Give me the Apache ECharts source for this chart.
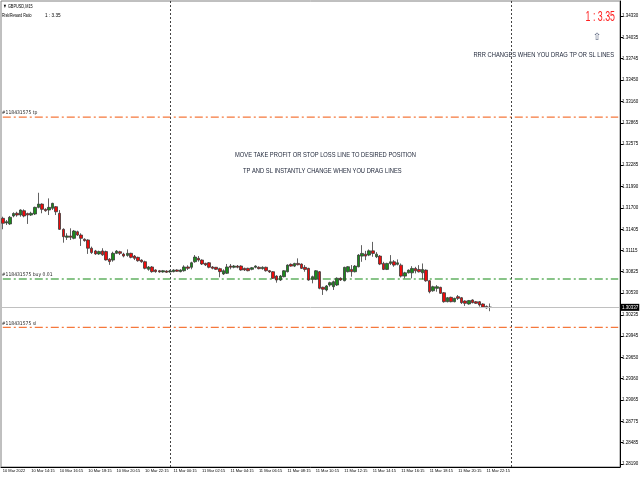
<!DOCTYPE html>
<html>
<head>
<meta charset="utf-8">
<script src="https://cdn.jsdelivr.net/npm/echarts@6/dist/echarts.min.js"></script>
<style>
  html, body { margin: 0; padding: 0; background: #fff; }
  #chart { width: 640px; height: 480px; }
</style>
</head>
<body>
<div id="chart"></div>
<script>
// GBPUSD M15, 10 Mar 12:15 .. 11 Mar 22:30
const xTickLabels = ['10 Mar 2022', '10 Mar 14:15', '10 Mar 16:15', '10 Mar 18:15', '10 Mar 20:15', '10 Mar 22:15',
  '11 Mar 00:15', '11 Mar 02:15', '11 Mar 04:15', '11 Mar 06:15', '11 Mar 08:15', '11 Mar 10:15',
  '11 Mar 12:15', '11 Mar 14:15', '11 Mar 16:15', '11 Mar 18:15', '11 Mar 20:15', '11 Mar 22:15']
const barsPerLabel = 8
const slotCount = 174   // bars + empty space on the right
const daySeparators = ['47', '143']

const opens = [
  1.31557, 1.31493, 1.31480, 1.31589, 1.31626, 1.31602, 1.31661, 1.31623, 1.31602, 1.31616,
  1.31707, 1.31752, 1.31680, 1.31671, 1.31694, 1.31716, 1.31625, 1.31406, 1.31297, 1.31315,
  1.31283, 1.31373, 1.31328, 1.31270, 1.31260, 1.31147, 1.31110, 1.31069, 1.31110, 1.31101,
  1.30997, 1.30985, 1.31077, 1.31099, 1.31067, 1.31049, 1.31077, 1.31040, 1.31022, 1.30985,
  1.30962, 1.30858, 1.30890, 1.30849, 1.30839, 1.30822, 1.30835, 1.30822, 1.30826, 1.30849,
  1.30826, 1.30839, 1.30890, 1.30886, 1.30962, 1.31009, 1.30985, 1.30940, 1.30948, 1.30890,
  1.30886, 1.30867, 1.30794, 1.30804, 1.30903, 1.30886, 1.30903, 1.30903, 1.30872, 1.30872,
  1.30858, 1.30886, 1.30886, 1.30867, 1.30886, 1.30839, 1.30825, 1.30766, 1.30711, 1.30757,
  1.30825, 1.30926, 1.30902, 1.30939, 1.30930, 1.30885, 1.30871, 1.30721, 1.30721, 1.30825,
  1.30612, 1.30575, 1.30643, 1.30620, 1.30643, 1.30735, 1.30702, 1.30825, 1.30857, 1.30825,
  1.30893, 1.31039, 1.31066, 1.31053, 1.31111, 1.31030, 1.31039, 1.30939, 1.30857, 1.30939,
  1.30961, 1.30926, 1.30915, 1.30765, 1.30810, 1.30810, 1.30870, 1.30856, 1.30810, 1.30847,
  1.30701, 1.30564, 1.30597, 1.30611, 1.30537, 1.30414, 1.30474, 1.30414, 1.30483, 1.30469,
  1.30424, 1.30383, 1.30438, 1.30414, 1.30414, 1.30383, 1.30350, 1.30340]
const closes = [
  1.31489, 1.31511, 1.31571, 1.31623, 1.31602, 1.31671, 1.31589, 1.31602, 1.31626, 1.31707,
  1.31752, 1.31680, 1.31661, 1.31707, 1.31762, 1.31647, 1.31406, 1.31305, 1.31315, 1.31297,
  1.31383, 1.31328, 1.31283, 1.31251, 1.31147, 1.31087, 1.31069, 1.31101, 1.31056, 1.30987,
  1.30964, 1.31077, 1.31108, 1.31077, 1.31040, 1.31077, 1.31022, 1.31009, 1.30976, 1.30962,
  1.30872, 1.30890, 1.30826, 1.30826, 1.30822, 1.30839, 1.30817, 1.30835, 1.30849, 1.30831,
  1.30849, 1.30890, 1.30872, 1.30948, 1.31026, 1.30985, 1.30931, 1.30917, 1.30886, 1.30872,
  1.30858, 1.30826, 1.30839, 1.30890, 1.30886, 1.30903, 1.30886, 1.30849, 1.30849, 1.30839,
  1.30880, 1.30903, 1.30867, 1.30886, 1.30839, 1.30822, 1.30735, 1.30711, 1.30766, 1.30838,
  1.30916, 1.30902, 1.30939, 1.30921, 1.30871, 1.30857, 1.30711, 1.30757, 1.30838, 1.30598,
  1.30585, 1.30630, 1.30675, 1.30688, 1.30735, 1.30711, 1.30885, 1.30893, 1.30825, 1.30902,
  1.31053, 1.31076, 1.31039, 1.31111, 1.31076, 1.31066, 1.30930, 1.30857, 1.30939, 1.30961,
  1.30916, 1.30947, 1.30765, 1.30810, 1.30847, 1.30870, 1.30837, 1.30824, 1.30856, 1.30701,
  1.30551, 1.30619, 1.30619, 1.30529, 1.30414, 1.30469, 1.30414, 1.30460, 1.30460, 1.30401,
  1.30392, 1.30429, 1.30401, 1.30392, 1.30370, 1.30342, 1.30330, 1.30337]
const lows = [
  1.31407, 1.31466, 1.31466, 1.31571, 1.31579, 1.31579, 1.31571, 1.31480, 1.31589, 1.31602,
  1.31694, 1.31626, 1.31647, 1.31602, 1.31671, 1.31602, 1.31397, 1.31223, 1.31260, 1.31260,
  1.31270, 1.31315, 1.31178, 1.31237, 1.31069, 1.31069, 1.31056, 1.31056, 1.31042, 1.30978,
  1.30919, 1.30962, 1.31067, 1.31054, 1.31022, 1.31031, 1.31009, 1.30985, 1.30962, 1.30948,
  1.30858, 1.30839, 1.30812, 1.30812, 1.30812, 1.30812, 1.30808, 1.30812, 1.30817, 1.30822,
  1.30817, 1.30826, 1.30849, 1.30858, 1.30948, 1.30962, 1.30917, 1.30903, 1.30872, 1.30858,
  1.30849, 1.30749, 1.30781, 1.30794, 1.30858, 1.30872, 1.30872, 1.30839, 1.30835, 1.30831,
  1.30845, 1.30872, 1.30858, 1.30853, 1.30826, 1.30808, 1.30725, 1.30675, 1.30698, 1.30748,
  1.30816, 1.30893, 1.30889, 1.30912, 1.30862, 1.30825, 1.30702, 1.30666, 1.30711, 1.30585,
  1.30507, 1.30557, 1.30620, 1.30575, 1.30630, 1.30698, 1.30693, 1.30816, 1.30757, 1.30816,
  1.30885, 1.30961, 1.30984, 1.31039, 1.31030, 1.31012, 1.30916, 1.30848, 1.30848, 1.30916,
  1.30893, 1.30912, 1.30747, 1.30734, 1.30802, 1.30734, 1.30802, 1.30815, 1.30720, 1.30687,
  1.30529, 1.30551, 1.30551, 1.30520, 1.30401, 1.30406, 1.30406, 1.30406, 1.30438, 1.30383,
  1.30356, 1.30373, 1.30392, 1.30383, 1.30347, 1.30333, 1.30320, 1.30284]
const highs = [
  1.31579, 1.31534, 1.31589, 1.31639, 1.31647, 1.31680, 1.31680, 1.31634, 1.31647, 1.31716,
  1.31907, 1.31762, 1.31694, 1.31830, 1.31770, 1.31725, 1.31670, 1.31420, 1.31352, 1.31420,
  1.31397, 1.31387, 1.31352, 1.31283, 1.31270, 1.31169, 1.31124, 1.31114, 1.31147, 1.31114,
  1.31011, 1.31099, 1.31122, 1.31112, 1.31085, 1.31131, 1.31085, 1.31054, 1.31031, 1.30995,
  1.30976, 1.30903, 1.30903, 1.30858, 1.30849, 1.30849, 1.30845, 1.30849, 1.30858, 1.30858,
  1.30858, 1.30913, 1.30913, 1.30962, 1.31054, 1.31040, 1.30995, 1.30948, 1.30958, 1.30903,
  1.30890, 1.30880, 1.30858, 1.30931, 1.30931, 1.30917, 1.30917, 1.30913, 1.30880, 1.30880,
  1.30890, 1.30913, 1.30899, 1.30899, 1.30894, 1.30849, 1.30834, 1.30776, 1.30780, 1.30848,
  1.30926, 1.30939, 1.30947, 1.31008, 1.30939, 1.30916, 1.30879, 1.30771, 1.30848, 1.30834,
  1.30620, 1.30643, 1.30688, 1.30702, 1.30748, 1.30748, 1.30893, 1.30902, 1.30916, 1.30916,
  1.31066, 1.31189, 1.31111, 1.31130, 1.31234, 1.31094, 1.31053, 1.30961, 1.30947, 1.31053,
  1.30984, 1.30994, 1.30938, 1.30824, 1.30856, 1.30901, 1.30892, 1.30915, 1.30938, 1.30856,
  1.30710, 1.30633, 1.30642, 1.30619, 1.30547, 1.30479, 1.30483, 1.30469, 1.30506, 1.30479,
  1.30433, 1.30438, 1.30447, 1.30424, 1.30424, 1.30392, 1.30362, 1.30390]

const yTicks = [1.28190, 1.28485, 1.28775, 1.29065, 1.29360, 1.29650, 1.29945, 1.30235, 1.30530, 1.30825, 1.31115,
  1.31405, 1.31700, 1.31990, 1.32285, 1.32575, 1.32865, 1.33160, 1.33450, 1.33745, 1.34035, 1.34330]
const yMin = 1.28149
const yMax = 1.34535

const ticket = '#118431575'
const tpPrice = 1.32945
const entryPrice = 1.30725
const slPrice = 1.30062
const lastPrice = 1.30337
const rrText = '1 : 3.35'

const narrow = '"Liberation Sans Narrow", "DejaVu Sans Condensed", sans-serif'
const sans = '"Liberation Sans", Arial, sans-serif'

const slots = Array.from({ length: slotCount }, (_, i) => String(i))
const candles = opens.map((o, i) => [o, closes[i], lows[i], highs[i]])
const isLabelSlot = (i) => i % barsPerLabel === 0 && i / barsPerLabel < xTickLabels.length

// order level (tp / entry / sl): a flat line across the whole chart, caption at its left end
const levelSeries = (price, caption, color) => ({
  type: 'line',
  silent: true,
  symbol: 'circle',
  symbolSize: 0,
  showSymbol: true,
  color: color,
  lineStyle: { color: color, type: [8, 3, 2, 3], width: 1.2 },
  itemStyle: { color: color },
  z: 1,
  data: [
    {
      value: [slots[0], price],
      label: {
        show: true, formatter: caption, position: 'right', distance: 0, offset: [-1, -4],
        color: '#222', fontSize: 5, fontFamily: narrow
      }
    },
    [slots[slotCount - 1], price]
  ]
})

// squeezed text, like the small terminal font
const note = (x, y, text, size, sx, fill, align) => ({
  type: 'text', x: x, y: y, scaleX: sx, silent: true,
  style: { x: 0, y: 0, text: text, font: size + 'px ' + sans, fill: fill, align: align || 'left', verticalAlign: 'middle' }
})

const chart = echarts.init(document.getElementById('chart'))
chart.setOption({
  animation: false,
  backgroundColor: '#fff',
  grid: {
    left: 1, right: 20, top: 1, bottom: 13, containLabel: false, outerBoundsMode: 'none',
    show: true, borderColor: '#808080', borderWidth: 1
  },
  xAxis: {
    type: 'category',
    data: slots,
    boundaryGap: true,
    axisLine: { lineStyle: { color: '#000', width: 1 } },
    axisTick: { alignWithLabel: true, length: 3, interval: isLabelSlot, lineStyle: { color: '#000' } },
    axisLabel: {
      interval: isLabelSlot,
      showMinLabel: true,
      formatter: (v) => xTickLabels[Number(v) / barsPerLabel] || '',
      align: 'left', margin: 2, fontSize: 4, color: '#000', fontFamily: sans
    },
    splitLine: { show: false }
  },
  yAxis: {
    type: 'value',
    position: 'right',
    min: yMin,
    max: yMax,
    axisLine: { show: true, lineStyle: { color: '#000', width: 1 } },
    axisTick: { show: true, length: 3, customValues: yTicks, lineStyle: { color: '#000' } },
    axisLabel: {
      customValues: yTicks, formatter: (v) => v.toFixed(5),
      margin: 2, fontSize: 4.5, color: '#000', fontFamily: sans
    },
    splitLine: { show: false }
  },
  series: [
    levelSeries(tpPrice, ticket + ' tp', '#f5783c'),
    levelSeries(entryPrice, ticket + ' buy 0.01', '#138a13'),
    levelSeries(slPrice, ticket + ' sl', '#f5783c'),
    {
      type: 'candlestick',
      data: candles,
      barWidth: 3,
      z: 3,
      itemStyle: {
        color: '#1a8c1a', color0: '#f00a0a',
        borderColor: '#3a3a3a', borderColor0: '#3a3a3a', borderWidth: 0.8
      },
      markLine: {
        symbol: 'none', silent: true, animation: false, precision: 5,
        data: [
          { xAxis: daySeparators[0], lineStyle: { color: '#444', type: [2, 2], width: 1 }, label: { show: false } },
          { xAxis: daySeparators[1], lineStyle: { color: '#444', type: [2, 2], width: 1 }, label: { show: false } },
          {
            yAxis: lastPrice, lineStyle: { color: '#c0c0c0', type: 'solid', width: 1 },
            label: {
              show: true, position: 'end', distance: 1, formatter: lastPrice.toFixed(5),
              color: '#fff', backgroundColor: '#000', padding: [1, 1], fontSize: 4.5, fontFamily: sans
            }
          }
        ]
      }
    }
  ],
  graphic: [
    note(3, 6, '▼ GBPUSD,M15', 5.5, 0.7, '#000'),
    note(2, 15.3, 'Risk/Reward Ratio', 5.5, 0.65, '#000'),
    note(45, 15.3, rrText, 5.5, 0.85, '#000'),
    note(615, 17, rrText, 14, 0.63, '#ff2020', 'right'),
    {
      type: 'text', x: 597, y: 37, silent: true,
      style: { x: 0, y: 0, text: '⇧', font: '10px "DejaVu Sans"', fill: '#56607a', align: 'center', verticalAlign: 'middle' }
    },
    note(614, 54.5, 'RRR CHANGES WHEN YOU DRAG TP OR SL LINES', 7.5, 0.77, '#1c2336', 'right'),
    note(235, 154.5, 'MOVE TAKE PROFIT OR STOP LOSS LINE TO DESIRED POSITION', 7.5, 0.77, '#1c2336'),
    note(243, 171, 'TP AND SL INSTANTLY CHANGE WHEN YOU DRAG LINES', 7.5, 0.77, '#1c2336')
  ]
})
</script>
</body>
</html>
